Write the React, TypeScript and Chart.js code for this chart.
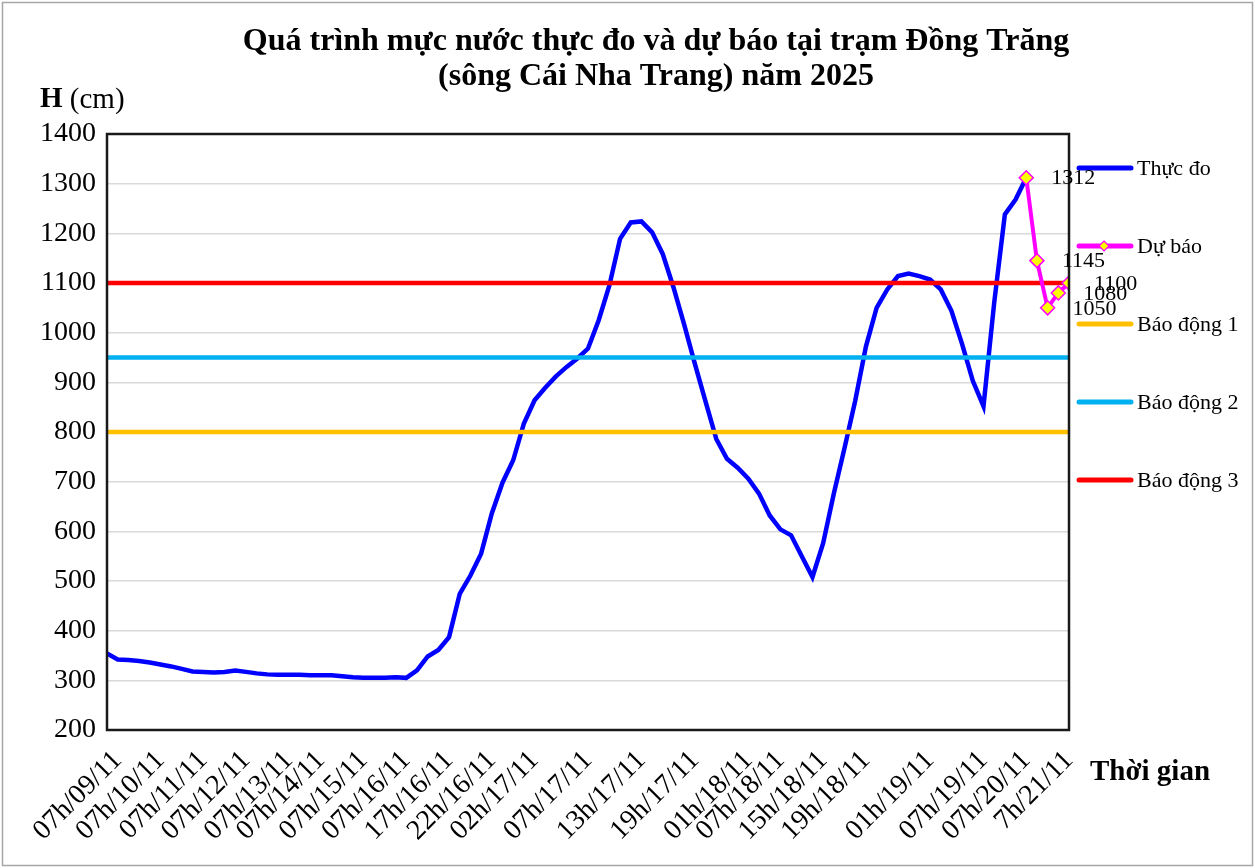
import { useEffect, useRef } from 'react';
import { Chart, registerables } from 'chart.js';

Chart.register(...registerables);

const FONT = '"Liberation Serif", "Times New Roman", serif';

// ---- Data ----
const titleLines = [
  'Quá trình mực nước thực đo và dự báo tại trạm Đồng Trăng',
  '(sông Cái Nha Trang) năm 2025',
];

// x-axis tick labels and the category index (time step) at which each one sits
const tickLabels = [
  '07h/09/11', '07h/10/11', '07h/11/11', '07h/12/11', '07h/13/11', '07h/14/11',
  '07h/15/11', '07h/16/11', '17h/16/11', '22h/16/11', '02h/17/11', '07h/17/11',
  '13h/17/11', '19h/17/11', '01h/18/11', '07h/18/11', '15h/18/11', '19h/18/11',
  '01h/19/11', '07h/19/11', '07h/20/11', '7h/21/11',
];
const tickIndex = [1, 5, 9, 13, 17, 20, 24, 28, 32, 36, 40, 45, 50, 55, 60, 63, 67, 71, 77, 82, 86, 90];

// Measured water level (cm), one value per time step
const measured = [
  354, 342, 341, 339, 336, 332, 328, 323, 318, 317,
  316, 317, 320, 317, 314, 312, 311, 311, 311, 310,
  310, 310, 308, 306, 305, 305, 305, 306, 305, 320,
  348, 361, 387, 474, 511, 555, 636, 698, 743, 817,
  864, 889, 912, 931, 948, 968, 1025, 1095, 1189, 1222,
  1224, 1202, 1158, 1091, 1016, 937, 861, 786, 746, 728,
  706, 676, 632, 604, 592, 550, 508, 576, 676, 768,
  863, 972, 1050, 1087, 1114, 1119, 1114, 1107, 1087, 1044,
  977, 903, 852, 1060, 1238, 1268, 1312,
];

// Forecast (cm), starting at the last measured time step
const forecast = [1312, 1145, 1050, 1080, 1100];

// Alarm levels (cm)
const alarmNames = ['Báo động 1', 'Báo động 2', 'Báo động 3'];
const alarmLevels = [800, 950, 1100];
const alarmColors = ['#FFC000', '#00B0F0', '#FF0000'];

const yMin = 200;
const yMax = 1400;
const yStep = 100;

export default function App() {
  const ref = useRef<HTMLCanvasElement | null>(null);

  useEffect(() => {
    const canvas = ref.current;
    if (!canvas) return;
    const forecastStart = measured.length - 1;
    const lastIndex = forecastStart + forecast.length - 1;

    const measuredPts = measured.map((v, i) => ({ x: i, y: v }));
    const forecastPts = forecast.map((v, i) => ({ x: forecastStart + i, y: v }));
    const alarmSets = alarmLevels.map((lvl, k) => ({
      label: alarmNames[k],
      data: [{ x: 0, y: lvl }, { x: lastIndex, y: lvl }],
      borderColor: alarmColors[k],
      backgroundColor: alarmColors[k],
      borderWidth: 4.5,
      pointRadius: 0,
      order: 1,
    }));

    const decor = {
      id: 'decor',
      beforeDraw(chart: any) {
        const { ctx, width, height } = chart;
        ctx.save();
        ctx.fillStyle = '#ffffff';
        ctx.fillRect(0, 0, width, height);
        ctx.strokeStyle = '#a6a6a6';
        ctx.lineWidth = 1.5;
        ctx.strokeRect(2.5, 2.5, width - 5, height - 5);
        ctx.restore();
      },
      afterDraw(chart: any) {
        const { ctx, chartArea: ca } = chart;
        ctx.save();
        // plot frame
        ctx.strokeStyle = '#1a1a1a';
        ctx.lineWidth = 2.5;
        ctx.strokeRect(ca.left, ca.top, ca.right - ca.left, ca.bottom - ca.top);

        ctx.fillStyle = '#000';
        // title
        ctx.textAlign = 'center';
        ctx.textBaseline = 'middle';
        ctx.font = `bold 32px ${FONT}`;
        titleLines.forEach((t, i) => ctx.fillText(t, 656, 42 + i * 35));

        // y-axis title: H (cm)
        ctx.textAlign = 'left';
        ctx.font = `bold 29px ${FONT}`;
        ctx.fillText('H', 40, 100);
        const hw = ctx.measureText('H').width;
        ctx.font = `29px ${FONT}`;
        ctx.fillText(' (cm)', 40 + hw, 100);

        // x-axis title
        ctx.font = `bold 29px ${FONT}`;
        ctx.fillText('Thời gian', 1090, 773);

        // legend
        const legendItems = [
          { text: 'Thực đo', color: '#0000FF', marker: false },
          { text: 'Dự báo', color: '#FF00FF', marker: true },
          ...alarmNames.map((n, k) => ({ text: n, color: alarmColors[k], marker: false })),
        ];
        const ly = [168, 246, 324, 402, 480];
        legendItems.forEach((it, i) => {
          const y = ly[i];
          ctx.strokeStyle = it.color;
          ctx.lineWidth = 5;
          ctx.lineCap = 'round';
          ctx.beginPath();
          ctx.moveTo(1079, y);
          ctx.lineTo(1131, y);
          ctx.stroke();
          if (it.marker) {
            const cx = 1104;
            const r = 5;
            ctx.beginPath();
            ctx.moveTo(cx, y - r);
            ctx.lineTo(cx + r, y);
            ctx.lineTo(cx, y + r);
            ctx.lineTo(cx - r, y);
            ctx.closePath();
            ctx.fillStyle = '#FFFF00';
            ctx.fill();
            ctx.lineWidth = 1.2;
            ctx.strokeStyle = '#FF00FF';
            ctx.stroke();
          }
          ctx.fillStyle = '#000';
          ctx.font = `22px ${FONT}`;
          ctx.textAlign = 'left';
          ctx.fillText(it.text, 1137, y + 1);
        });

        // forecast data labels
        const meta = chart.getDatasetMeta(1);
        ctx.font = `22px ${FONT}`;
        ctx.fillStyle = '#000';
        meta.data.forEach((pt: any, i: number) => {
          ctx.fillText(String(forecast[i]), pt.x + 25, pt.y + 1);
        });
        ctx.restore();
      },
    };

    const chart = new Chart(canvas, {
      type: 'line',
      data: {
        datasets: [
          {
            label: 'Thực đo',
            data: measuredPts,
            borderColor: '#0000FF',
            backgroundColor: '#0000FF',
            borderWidth: 4.5,
            pointRadius: 0,
            tension: 0,
            order: 2,
          },
          {
            label: 'Dự báo',
            data: forecastPts,
            borderColor: '#FF00FF',
            backgroundColor: '#FFFF00',
            borderWidth: 4,
            pointStyle: 'rectRot',
            pointRadius: 7,
            pointBackgroundColor: '#FFFF00',
            pointBorderColor: '#FF00FF',
            pointBorderWidth: 1.5,
            order: 0,
          },
          ...alarmSets,
        ] as any,
      },
      options: {
        animation: false,
        responsive: false,
        devicePixelRatio: 1,
        layout: { padding: { top: 134, right: 186, left: 0, bottom: 0 } },
        plugins: {
          legend: { display: false },
          title: { display: false },
          tooltip: { enabled: false },
        },
        scales: {
          x: {
            type: 'linear',
            min: 0,
            max: lastIndex,
            grid: { display: false },
            border: { display: false },
            afterBuildTicks: (axis: any) => {
              axis.ticks = tickIndex.map((v) => ({ value: v }));
            },
            afterFit: (s: any) => {
              s.height = 138;
            },
            ticks: {
              autoSkip: false,
              maxRotation: 45,
              minRotation: 45,
              padding: 6,
              color: '#000',
              font: { family: FONT, size: 28 },
              callback: (v: any) => {
                const k = tickIndex.indexOf(Number(v));
                return k >= 0 ? tickLabels[k] : '';
              },
            },
          },
          y: {
            type: 'linear',
            min: yMin,
            max: yMax,
            grid: { color: '#d9d9d9', lineWidth: 1.5, drawTicks: false },
            border: { display: false },
            afterFit: (s: any) => {
              s.width = 107;
            },
            ticks: {
              stepSize: yStep,
              padding: 11,
              color: '#000',
              font: { family: FONT, size: 28 },
              callback: (v: any) => String(v),
            },
          },
        },
      },
      plugins: [decor],
    });

    return () => chart.destroy();
  }, []);

  return (
    <div style={{ position: 'absolute', left: 0, top: 0, width: 1255, height: 868 }}>
      <canvas ref={ref} width={1255} height={868} />
    </div>
  );
}
